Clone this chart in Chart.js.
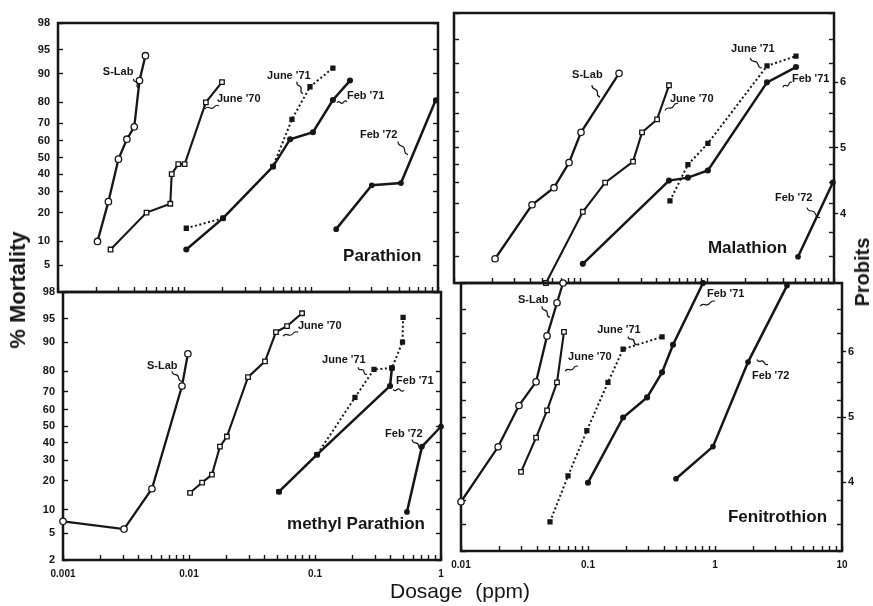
<!DOCTYPE html>
<html>
<head>
<meta charset="utf-8">
<script src="https://cdn.jsdelivr.net/npm/chart.js@4.4.1/dist/chart.umd.min.js"></script>
<style>
  html, body { margin: 0; padding: 0; background: #fff; }
  #wrap { position: relative; width: 873px; height: 606px; overflow: hidden; background: #fff; }
  #wrap canvas { position: absolute; left: 0; top: 0; }
  .lbl { position: absolute; color: #161616; font-family: 'Liberation Sans', Arial, sans-serif; white-space: nowrap; line-height: 1; }
  .rot { transform: translate(-50%, -50%) rotate(-90deg); }
</style>
</head>
<body>
<div id="wrap">
  <canvas id="c0" width="873" height="606"></canvas>
  <canvas id="c1" width="873" height="606"></canvas>
  <canvas id="c2" width="873" height="606"></canvas>
  <canvas id="c3" width="873" height="606"></canvas>
  <div class="lbl rot" style="left:18px; top:290px; font-size:22px; font-weight:bold;">% Mortality</div>
  <div class="lbl rot" style="left:862px; top:272px; font-size:20px; font-weight:bold;">Probits</div>
  <div class="lbl" style="left:390px; top:580px; font-size:21px; word-spacing:7px;">Dosage (ppm)</div>
</div>
<script>
const SERIES = ['S-Lab', "June '70", "June '71", "Feb '71", "Feb '72"];
const PCT_TICKS = [2, 5, 10, 20, 30, 40, 50, 60, 70, 80, 90, 95, 98];
const PROBIT_TICKS = [4, 5, 6];

// Parathion (top left) - dose in ppm, mortality in %
const parSLabDose  = [0.00205, 0.0025, 0.003, 0.0035, 0.004, 0.0044, 0.0049];
const parSLabPct   = [10, 25, 49, 61, 68, 88, 94];
const parJun70Dose = [0.0026, 0.005, 0.0077, 0.0079, 0.0089, 0.01, 0.0147, 0.0197];
const parJun70Pct  = [8, 20, 24, 40, 46, 46, 80, 87.5];
const parJun71Dose = [0.0103, 0.0201, 0.0498, 0.0703, 0.0976, 0.148];
const parJun71Pct  = [14, 17.7, 44.5, 72, 86, 91.4];
const parFeb71Dose = [0.0103, 0.0201, 0.0498, 0.068, 0.103, 0.148, 0.202];
const parFeb71Pct  = [8, 17.7, 44.5, 61, 65, 81, 88];
const parFeb72Dose = [0.157, 0.30, 0.51, 0.96];
const parFeb72Pct  = [13.7, 33.6, 34.8, 81];

// Malathion (top right)
const malSLabDose  = [0.0211, 0.0413, 0.0616, 0.0809, 0.1006, 0.201];
const malSLabPct   = [4.6, 19.4, 27.3, 41.2, 59.4, 87.2];
const malJun70Dose = [0.0532, 0.104, 0.156, 0.259, 0.305, 0.401, 0.498];
const malJun70Pct  = [2, 16.6, 29.9, 41.8, 59.4, 66.8, 83];
const malJun71Dose = [0.507, 0.703, 1.01, 2.96, 5.01];
const malJun71Pct  = [21.1, 40, 52.8, 89.4, 91.9];
const malFeb71Dose = [0.104, 0.498, 0.703, 1.01, 2.96, 5.01];
const malFeb71Pct  = [3.9, 31, 32.6, 36.6, 84.1, 89.1];
const malFeb72Dose = [5.2, 9.8];
const malFeb72Pct  = [4.9, 30];

// methyl Parathion (bottom left)
const mpaSLabDose  = [0.001, 0.00305, 0.00508, 0.0088, 0.0098];
const mpaSLabPct   = [7.2, 5.7, 16.8, 73, 86.6];
const mpaJun70Dose = [0.0102, 0.0127, 0.0152, 0.0176, 0.02, 0.0294, 0.0401, 0.049, 0.06, 0.0789];
const mpaJun70Pct  = [15.3, 19.3, 22.8, 37.6, 43.6, 77.3, 83.9, 92.5, 93.7, 95.8];
const mpaJun71Dose = [0.0518, 0.1037, 0.2076, 0.294, 0.408, 0.495, 0.5];
const mpaJun71Pct  = [15.7, 33, 66.9, 80.7, 81.3, 90.1, 95.2];
const mpaFeb71Dose = [0.0518, 0.1037, 0.394, 0.408];
const mpaFeb71Pct  = [15.7, 33, 73, 81.3];
const mpaFeb72Dose = [0.537, 0.706, 1.0];
const mpaFeb72Pct  = [9.4, 37.6, 49.7];

// Fenitrothion (bottom right)
const fenSLabDose  = [0.01, 0.0196, 0.0286, 0.039, 0.0476, 0.057, 0.0636];
const fenSLabPct   = [9.7, 32.4, 57, 70.5, 89.3, 96, 98];
const fenJun70Dose = [0.0297, 0.039, 0.0476, 0.057, 0.0647];
const fenJun70Pct  = [20, 37.6, 54, 70.2, 90.4];
const fenJun71Dose = [0.0502, 0.0696, 0.098, 0.1436, 0.189, 0.383];
const fenJun71Pct  = [5.4, 18.3, 41.8, 70.2, 85.1, 89];
const fenFeb71Dose = [0.1, 0.189, 0.292, 0.383, 0.467, 0.805];
const fenFeb71Pct  = [15.7, 49.7, 61.8, 75.3, 86.6, 98];
const fenFeb72Dose = [0.493, 0.964, 1.82, 3.69];
const fenFeb72Pct  = [17.2, 32.5, 80, 97.8];

const INK = '#161616';
const FONT = "'Liberation Sans', Arial, sans-serif";

// inverse normal (Acklam), returned in probit units (z + 5)
function probit(p) {
  const a = [-39.69683028665376, 220.9460984245205, -275.9285104469687, 138.3577518672690, -30.66479806614716, 2.506628277459239];
  const b = [-54.47609879822406, 161.5858368580409, -155.6989798598866, 66.80131188771972, -13.28068155288572];
  const c = [-0.007784894002430293, -0.3223964580411365, -2.400758277161838, -2.549732539343734, 4.374664141464968, 2.938163982698783];
  const d = [0.007784695709041462, 0.3224671290700398, 2.445134137142996, 3.754408661907416];
  const pl = 0.02425;
  let q, r, z;
  if (p < pl) {
    q = Math.sqrt(-2 * Math.log(p));
    z = (((((c[0]*q+c[1])*q+c[2])*q+c[3])*q+c[4])*q+c[5]) / ((((d[0]*q+d[1])*q+d[2])*q+d[3])*q+1);
  } else if (p <= 1 - pl) {
    q = p - 0.5; r = q * q;
    z = (((((a[0]*r+a[1])*r+a[2])*r+a[3])*r+a[4])*r+a[5])*q / (((((b[0]*r+b[1])*r+b[2])*r+b[3])*r+b[4])*r+1);
  } else {
    q = Math.sqrt(-2 * Math.log(1 - p));
    z = -(((((c[0]*q+c[1])*q+c[2])*q+c[3])*q+c[4])*q+c[5]) / ((((d[0]*q+d[1])*q+d[2])*q+d[3])*q+1);
  }
  return z + 5;
}
const YMIN = probit(0.02), YMAX = probit(0.98);

const STYLES = {
  'S-Lab':    { ps: 'circle', r: 3.2, fill: '#fff', dash: [],     w: 2.3 },
  "June '70": { ps: 'rect',   r: 3.2, fill: '#fff', dash: [],     w: 2.1 },
  "June '71": { ps: 'rect',   r: 2.8, fill: INK,    dash: [2, 2.5], w: 2.0 },
  "Feb '71":  { ps: 'circle', r: 2.4, fill: INK,    dash: [],     w: 2.5 },
  "Feb '72":  { ps: 'circle', r: 2.2, fill: INK,    dash: [],     w: 2.5 }
};

const panels = [
  { id: 'c0', xMin: 0.001, xMax: 1, area: { l: 58, r: 438, t: 23, b: 292 }, yLabels: true, skipBottomLabel: true, xLabels: false, probitLabels: false,
    doses: [parSLabDose, parJun70Dose, parJun71Dose, parFeb71Dose, parFeb72Dose],
    pcts:  [parSLabPct, parJun70Pct, parJun71Pct, parFeb71Pct, parFeb72Pct],
    notes: [
      { text: 'S-Lab', dose: 0.00226, pct: 90.5, sq: [31, 7, 36, 16] },
      { text: "June '70", dose: 0.018, pct: 81.5, sq: [2, 7, -12, 10] },
      { text: "June '71", dose: 0.0447, pct: 89.4, sq: [30, 6, 36, 18] },
      { text: "Feb '71", dose: 0.191, pct: 82.7, sq: [0, 6, -10, 7] },
      { text: "Feb '72", dose: 0.242, pct: 63.7, sq: [38, 7, 48, 20] },
      { text: 'Parathion', dose: 0.178, pct: 6.6, big: true }
    ] },
  { id: 'c1', xMin: 0.01, xMax: 10, area: { l: 454, r: 834, t: 13, b: 283 }, yLabels: false, xLabels: false, probitLabels: true,
    doses: [malSLabDose, malJun70Dose, malJun71Dose, malFeb71Dose, malFeb72Dose],
    pcts:  [malSLabPct, malJun70Pct, malJun71Pct, malFeb71Pct, malFeb72Pct],
    notes: [
      { text: 'S-Lab', dose: 0.0855, pct: 86.6, sq: [20, 10, 28, 22] },
      { text: "June '70", dose: 0.507, pct: 77, sq: [8, 4, -5, 11] },
      { text: "June '71", dose: 1.54, pct: 93.4, sq: [19, 9, 31, 19] },
      { text: "Feb '71", dose: 4.66, pct: 85.2, sq: [0, 3, -9, 8] },
      { text: "Feb '72", dose: 3.42, pct: 22.5, sq: [32, 10, 45, 20] },
      { text: 'Malathion', dose: 1.01, pct: 6.4, big: true }
    ] },
  { id: 'c2', xMin: 0.001, xMax: 1, area: { l: 63, r: 441, t: 292, b: 560 }, yLabels: true, xLabels: true, probitLabels: false,
    doses: [mpaSLabDose, mpaJun70Dose, mpaJun71Dose, mpaFeb71Dose, mpaFeb72Dose],
    pcts:  [mpaSLabPct, mpaJun70Pct, mpaJun71Pct, mpaFeb71Pct, mpaFeb72Pct],
    notes: [
      { text: 'S-Lab', dose: 0.00464, pct: 82, sq: [25, 5, 35, 15] },
      { text: "June '70", dose: 0.0733, pct: 93.7, sq: [0, 6, -15, 10] },
      { text: "June '71", dose: 0.1138, pct: 84.3, sq: [36, 7, 45, 14] },
      { text: "Feb '71", dose: 0.44, pct: 75.3, sq: [-3, 8, 8, 9] },
      { text: "Feb '72", dose: 0.36, pct: 45.4, sq: [27, 6, 37, 16] },
      { text: 'methyl Parathion', dose: 0.06, pct: 6.5, big: true }
    ] },
  { id: 'c3', xMin: 0.01, xMax: 10, area: { l: 461, r: 842, t: 283, b: 551 }, yLabels: false, xLabels: true, probitLabels: true,
    doses: [fenSLabDose, fenJun70Dose, fenJun71Dose, fenFeb71Dose, fenFeb72Dose],
    pcts:  [fenSLabPct, fenJun70Pct, fenJun71Pct, fenFeb71Pct, fenFeb72Pct],
    notes: [
      { text: 'S-Lab', dose: 0.0281, pct: 96.3, sq: [24, 6, 32, 17] },
      { text: "June '70", dose: 0.0697, pct: 82, sq: [10, 9, -3, 14] },
      { text: "June '71", dose: 0.118, pct: 91, sq: [31, 7, 40, 15] },
      { text: "Feb '71", dose: 0.865, pct: 97, sq: [8, 7, -7, 12] },
      { text: "Feb '72", dose: 1.956, pct: 73.3, sq: [5, -17, 16, -12] },
      { text: 'Fenitrothion', dose: 1.265, pct: 6.3, big: true }
    ] }
];

function squiggle(ctx, x1, y1, x2, y2) {
  const dx = x2 - x1, dy = y2 - y1, len = Math.hypot(dx, dy) || 1;
  const nx = -dy / len, ny = dx / len;
  ctx.beginPath();
  ctx.moveTo(x1, y1);
  const n = 3;
  for (let i = 1; i <= n; i++) {
    const t0 = (i - 0.5) / n, t1 = i / n, s = i % 2 ? 2 : -2;
    ctx.quadraticCurveTo(x1 + dx * t0 + nx * s, y1 + dy * t0 + ny * s, x1 + dx * t1, y1 + dy * t1);
  }
  ctx.lineWidth = 1.2;
  ctx.strokeStyle = INK;
  ctx.stroke();
}

const framePlugin = {
  id: 'frame',
  beforeDatasetsDraw(chart) {
    const { ctx, chartArea: a } = chart;
    ctx.save();
    ctx.strokeStyle = INK;
    ctx.lineWidth = 2.5;
    ctx.strokeRect(a.left, a.top, a.right - a.left, a.bottom - a.top);
    ctx.restore();
  }
};

const notesPlugin = {
  id: 'notes',
  afterDatasetsDraw(chart, args, opts) {
    const { ctx, scales } = chart;
    ctx.save();
    ctx.fillStyle = INK;
    ctx.textBaseline = 'middle';
    ctx.textAlign = 'left';
    (opts.items || []).forEach(n => {
      const px = scales.x.getPixelForValue(n.dose);
      const py = scales.y.getPixelForValue(probit(n.pct / 100));
      ctx.font = n.big ? 'bold 17px ' + FONT : 'bold 11px ' + FONT;
      ctx.fillText(n.text, px, py);
      if (n.sq) squiggle(ctx, px + n.sq[0], py + n.sq[1], px + n.sq[2], py + n.sq[3]);
    });
    ctx.restore();
  }
};

function logTicks(s) {
  const ticks = [];
  const e0 = Math.round(Math.log10(s.min)), e1 = Math.round(Math.log10(s.max));
  for (let e = e0; e < e1; e++) {
    for (let k = 1; k <= 9; k++) ticks.push({ value: k * Math.pow(10, e), major: k === 1 });
  }
  ticks.push({ value: s.max, major: true });
  s.ticks = ticks;
}
const pctTicks = s => { s.ticks = PCT_TICKS.map(v => ({ value: probit(v / 100) })); };
const fixW = w => s => { s.width = w; s.paddingTop = 0; s.paddingBottom = 0; };
const fixH = h => s => { s.height = h; s.paddingLeft = 0; s.paddingRight = 0; };

const tickGrid = { drawOnChartArea: false, drawTicks: true, tickLength: -5, tickColor: INK, tickWidth: 1.4 };

panels.forEach(p => {
  const WL = p.yLabels ? 40 : 0;
  const WR = p.probitLabels ? 26 : 0;
  const HB = p.xLabels ? 22 : 0;
  const a = p.area;

  const datasets = SERIES.map((name, i) => {
    const st = STYLES[name];
    return {
      label: name,
      data: p.doses[i].map((d, k) => ({ x: d, y: probit(p.pcts[i][k] / 100) })),
      showLine: true,
      borderColor: INK,
      borderWidth: st.w,
      borderDash: st.dash,
      pointStyle: st.ps,
      pointRadius: st.r,
      pointBackgroundColor: st.fill,
      pointBorderColor: INK,
      pointBorderWidth: 1.3,
      clip: false
    };
  });

  const scales = {
    x: {
      type: 'logarithmic', position: 'bottom', min: p.xMin, max: p.xMax,
      afterBuildTicks: logTicks, afterFit: fixH(HB),
      border: { display: false }, grid: tickGrid,
      ticks: {
        autoSkip: false, maxRotation: 0, padding: 13, color: INK,
        font: { family: FONT, size: 10, weight: 'bold' },
        callback: (v, i, t) => (p.xLabels && t[i].major) ? String(v) : ''
      }
    },
    y: {
      type: 'linear', position: 'left', min: YMIN, max: YMAX,
      afterBuildTicks: pctTicks, afterFit: fixW(WL),
      border: { display: false }, grid: tickGrid,
      ticks: {
        autoSkip: false, padding: 13, color: INK,
        font: { family: FONT, size: 11, weight: 'bold' },
        callback: (v, i) => (!p.yLabels || (p.skipBottomLabel && i === 0)) ? '' : String(PCT_TICKS[i])
      }
    },
    y2: {
      type: 'linear', position: 'right', min: YMIN, max: YMAX,
      afterBuildTicks: pctTicks, afterFit: fixW(0),
      border: { display: false }, grid: tickGrid,
      ticks: { autoSkip: false, padding: 0, callback: () => '' }
    }
  };
  if (p.probitLabels) {
    scales.yp = {
      type: 'linear', position: 'right', min: YMIN, max: YMAX,
      afterBuildTicks: s => { s.ticks = PROBIT_TICKS.map(v => ({ value: v })); },
      afterFit: fixW(WR),
      border: { display: false },
      grid: { drawOnChartArea: false, drawTicks: true, tickLength: 4, tickColor: INK, tickWidth: 1.4 },
      ticks: {
        autoSkip: false, padding: 2, color: INK,
        font: { family: FONT, size: 11, weight: 'bold' },
        callback: (v, i) => String(PROBIT_TICKS[i])
      }
    };
  }

  new Chart(document.getElementById(p.id), {
    type: 'scatter',
    data: { datasets },
    options: {
      responsive: false,
      animation: false,
      events: [],
      layout: {
        padding: { left: a.l - WL, right: 873 - a.r - WR, top: a.t, bottom: 606 - a.b - HB }
      },
      scales,
      plugins: {
        legend: { display: false },
        tooltip: { enabled: false },
        notes: { items: p.notes }
      }
    },
    plugins: [framePlugin, notesPlugin]
  });
});
</script>
</body>
</html>
